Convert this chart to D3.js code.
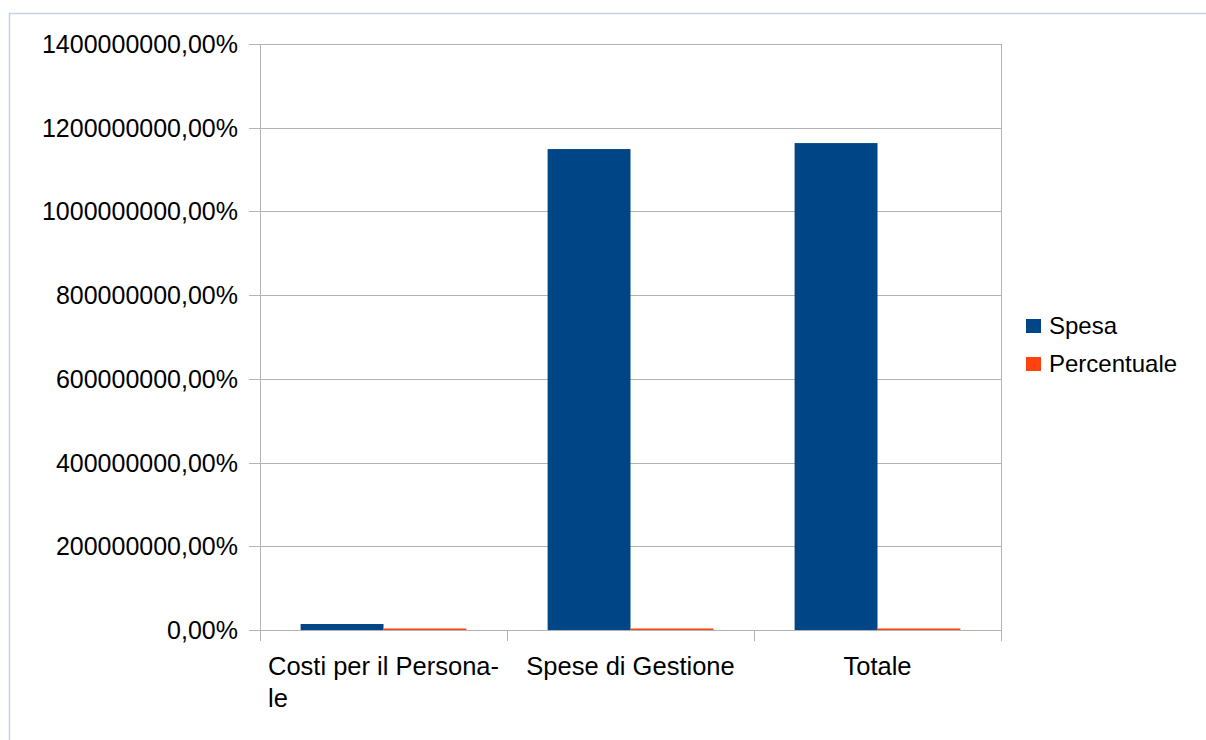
<!DOCTYPE html>
<html>
<head>
<meta charset="utf-8">
<script src="https://cdn.jsdelivr.net/npm/d3@7/dist/d3.min.js"></script>
<style>
  body { margin: 0; background: #fff; }
  text { font-family: "Liberation Sans", Arial, sans-serif; fill: #000; }
</style>
</head>
<body>
<div id="chart"></div>
<script>
// data (values are fractions, shown as percent)
const categories = ["Costi per il Personale", "Spese di Gestione", "Totale"];
const labelLines = [["Costi per il Persona-", "le"], ["Spese di Gestione"], ["Totale"]];
const seriesNames = ["Spesa", "Percentuale"];
const spesa = [143000, 11490000, 11633000];
const percentuale = [0.0123, 0.9877, 1];
const yTicks = [0, 2000000, 4000000, 6000000, 8000000, 10000000, 12000000, 14000000];
const colors = ["#004586", "#ff420e"];

var width = 1206,
    height = 740;
var pLeft = 260, pRight = 1001, pTop = 44, pBottom = 630;

var svg = d3.select("#chart").append("svg")
    .attr("width", width)
    .attr("height", height);

// frame
svg.append("path")
    .attr("d", "M9.5," + height + "V13.5H" + width)
    .attr("fill", "none")
    .attr("stroke", "#c5d3e2")
    .attr("stroke-width", 1.5);

var y = d3.scaleLinear().domain([0, 14000000]).range([pBottom, pTop]);
var x0 = d3.scaleBand().domain(categories).range([pLeft, pRight]).padding(0);
var x1 = d3.scaleBand().domain(seriesNames).range([0, x0.bandwidth()])
    .paddingInner(0).paddingOuter(0.49);

var fmt = function (v) {
    return d3.format(".2f")(v * 100).replace(".", ",") + "%";
};

// gridlines
svg.append("g").selectAll("line")
    .data(yTicks)
    .enter().append("line")
    .attr("x1", pLeft - 11).attr("x2", pRight)
    .attr("y1", d => Math.round(y(d)) + 0.5).attr("y2", d => Math.round(y(d)) + 0.5)
    .attr("stroke", "#b3b3b3")
    .attr("stroke-width", 1);

// y labels
svg.append("g").selectAll("text")
    .data(yTicks)
    .enter().append("text")
    .attr("x", 238)
    .attr("y", d => y(d))
    .attr("dy", "0.36em")
    .attr("text-anchor", "end")
    .style("font-size", "25px")
    .text(fmt);

// axes lines
svg.append("line")
    .attr("x1", pLeft + 0.5).attr("x2", pLeft + 0.5)
    .attr("y1", pTop).attr("y2", pBottom)
    .attr("stroke", "#b3b3b3");
svg.append("line")
    .attr("x1", pRight + 0.5).attr("x2", pRight + 0.5)
    .attr("y1", pTop).attr("y2", pBottom + 11)
    .attr("stroke", "#b3b3b3");

// category ticks
var bounds = categories.map(c => x0(c)).concat([pRight]);
svg.append("g").selectAll("line")
    .data(bounds)
    .enter().append("line")
    .attr("x1", d => Math.round(d) + 0.5).attr("x2", d => Math.round(d) + 0.5)
    .attr("y1", pBottom).attr("y2", pBottom + 11)
    .attr("stroke", "#b3b3b3");

// bars
var rows = categories.map((c, i) => ({ cat: c, values: [spesa[i], percentuale[i]] }));
var groups = svg.append("g").selectAll("g")
    .data(rows)
    .enter().append("g")
    .attr("transform", d => "translate(" + x0(d.cat) + ",0)");

groups.selectAll("rect")
    .data(d => d.values.map((v, j) => ({ key: seriesNames[j], value: v, j: j })))
    .enter().append("rect")
    .attr("x", d => x1(d.key))
    .attr("width", x1.bandwidth())
    .attr("y", d => Math.min(y(d.value), pBottom - 1.5))
    .attr("height", d => Math.max(pBottom - y(d.value), 1.5))
    .attr("fill", d => colors[d.j]);

// baseline on top
svg.append("line")
    .attr("x1", pLeft).attr("x2", pRight)
    .attr("y1", pBottom + 0.5).attr("y2", pBottom + 0.5)
    .attr("stroke", "#b3b3b3")
    .attr("stroke-width", 1);

// x labels (block centered, lines left aligned)
var xl = svg.append("g");
labelLines.forEach(function (lines, i) {
    var c = x0(categories[i]) + x0.bandwidth() / 2;
    var t = xl.append("text")
        .style("font-size", "25.5px")
        .attr("y", 675);
    var w = 0;
    lines.forEach(function (l, k) {
        var ts = t.append("tspan").attr("dy", k ? 32 : 0).text(l);
        w = Math.max(w, ts.node().getComputedTextLength());
    });
    t.selectAll("tspan").attr("x", c - w / 2);
});

// legend
var lg = svg.append("g");
seriesNames.forEach(function (s, i) {
    lg.append("rect")
        .attr("x", 1026).attr("y", 319 + i * 38)
        .attr("width", 15).attr("height", 14)
        .attr("fill", colors[i]);
    lg.append("text")
        .attr("x", 1049).attr("y", 334 + i * 38)
        .style("font-size", "24px")
        .text(s);
});
</script>
</body>
</html>
